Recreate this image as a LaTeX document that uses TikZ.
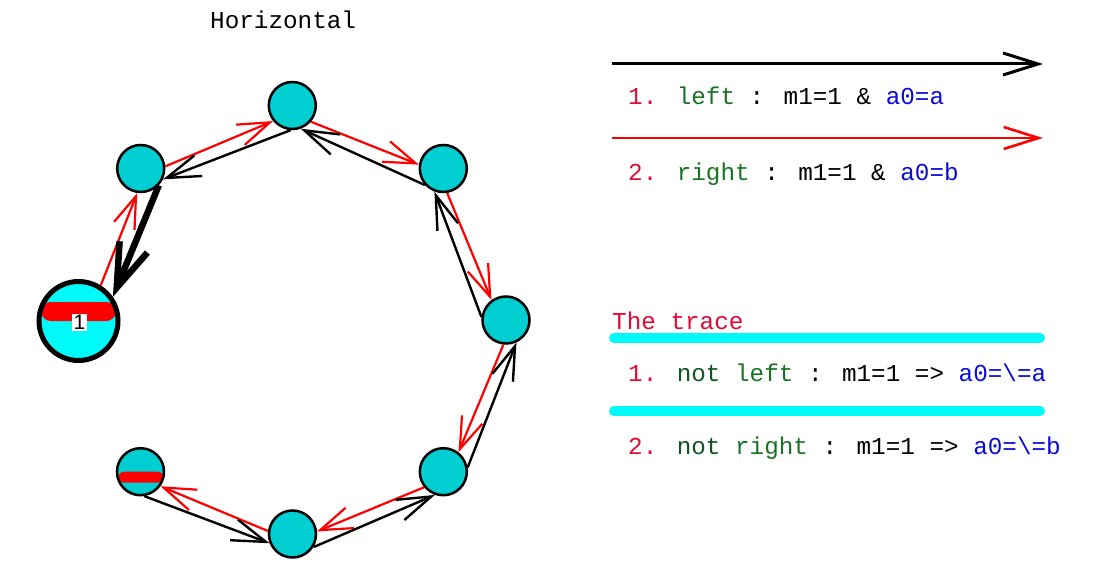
\documentclass[tikz,border=0pt]{standalone}
\usepackage{fontspec}
\newfontfamily\cour{Liberation Mono}
\newfontfamily\arial{Liberation Sans}
\usetikzlibrary{arrows.meta}
\definecolor{turq}{RGB}{0,206,209}
\definecolor{cyanl}{RGB}{0,250,250}
\definecolor{crim}{RGB}{225,10,50}
\definecolor{dgreen}{RGB}{25,115,35}
\definecolor{ngreen}{RGB}{15,85,35}
\definecolor{bblue}{RGB}{10,10,215}
\begin{document}
\begin{tikzpicture}[x=1pt,y=-1pt,
  state/.style={circle,draw=black,line width=2.5pt,fill=turq,minimum size=47pt,inner sep=0pt},
  startst/.style={circle,draw=black,line width=5pt,fill=cyanl,minimum size=79pt,inner sep=0pt},
  redarr/.style={draw=red,line width=2.2pt,-{Straight Barb[length=32pt,width=22pt]}},
  blackarr/.style={draw=black,line width=2.4pt,-{Straight Barb[length=34pt,width=22pt]}},
  thickarr/.style={draw=black,line width=6.5pt,-{Straight Barb[length=44pt,width=30pt]}},
  txt/.style={inner sep=0pt,anchor=base west,font=\cour\fontsize{24.3}{29}\selectfont},
  sep/.style={draw=cyanl,line width=10pt,line cap=round}
]
\useasboundingbox (0,0) rectangle (1106,567);

% title
\node[txt] (title) at (210,29) {Horizontal};

% states
\node[startst,path picture={\fill[red,rounded corners=9pt]
   ([shift={(-37,-19)}]path picture bounding box.center) rectangle
   ([shift={(37,0)}]path picture bounding box.center);}] (n1) at (78.5,321) {};
\node[fill=white,inner sep=1.5pt,font=\arial\fontsize{21}{23}\selectfont] (n1lbl) at (79.5,322.5) {1};
\node[state] (n2) at (140.7,168.5) {};
\node[state] (n3) at (292.3,105.5) {};
\node[state] (n4) at (443.3,168.5) {};
\node[state] (n5) at (506,320) {};
\node[state] (n6) at (443.3,471.7) {};
\node[state] (n7) at (292.5,534) {};
\node[state,path picture={\fill[red,rounded corners=5pt]
   ([shift={(-22,0)}]path picture bounding box.center) rectangle
   ([shift={(23,11)}]path picture bounding box.center);}] (n8) at (140.5,471.7) {};

% transitions
\draw[redarr] (n1.58) -- (n2.262);
\draw[thickarr] (n2.317) -- (n1.35);
\draw[redarr] (n2.5) -- (n3.219);
\draw[blackarr] (n3.266) -- (n2.334);
\draw[redarr] (n3.319) -- (n4.171);
\draw[blackarr] (n4.222) -- (n3.290);
\draw[redarr] (n4.279) -- (n5.126);
\draw[blackarr] (n5.173) -- (n4.249);
\draw[redarr] (n5.264) -- (n6.52);
\draw[blackarr] (n6.10) -- (n5.295);
\draw[redarr] (n6.219) -- (n7.6);
\draw[blackarr] (n7.328) -- (n6.250);
\draw[redarr] (n7.173) -- (n8.324);
\draw[blackarr] (n8.279) -- (n7.202);

% legend
\coordinate (l1a) at (612,64);  \coordinate (l1b) at (1043,64);
\coordinate (l2a) at (612,138); \coordinate (l2b) at (1043,138);
\draw[draw=black,line width=3pt,-{Straight Barb[length=35pt,width=22pt]}] (l1a) -- (l1b);
\draw[draw=red,line width=2.6pt,-{Straight Barb[length=35pt,width=22pt]}] (l2a) -- (l2b);
\node[txt] (t1) at (628,105) {\textcolor{crim}{1.} \textcolor{dgreen}{left} : m1=1 \& \textcolor{bblue}{a0=a}};
\node[txt] (t2) at (628,180) {\textcolor{crim}{2.} \textcolor{dgreen}{right} : m1=1 \& \textcolor{bblue}{a0=b}};

% trace
\node[txt,text=crim] (trace) at (612,329) {The trace};
\coordinate (s1a) at (614,338); \coordinate (s1b) at (1040,338);
\coordinate (s2a) at (614,411); \coordinate (s2b) at (1040,411);
\draw[sep] (s1a) -- (s1b);
\draw[sep] (s2a) -- (s2b);
\node[txt] (t3) at (628,381) {\textcolor{crim}{1.} \textcolor{ngreen}{not} \textcolor{dgreen}{left} : m1=1 => \textcolor{bblue}{a0=\textbackslash=a}};
\node[txt] (t4) at (628,454) {\textcolor{crim}{2.} \textcolor{ngreen}{not} \textcolor{dgreen}{right} : m1=1 => \textcolor{bblue}{a0=\textbackslash=b}};
\end{tikzpicture}
\end{document}
